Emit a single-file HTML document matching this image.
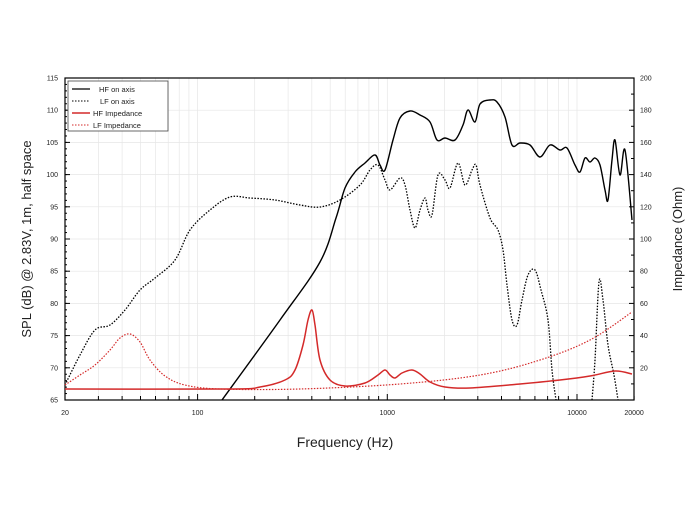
<!DOCTYPE html><html><head><style>body{margin:0;background:#fff}svg{display:block}text{font-family:"Liberation Sans",sans-serif}</style></head><body>
<svg width="700" height="524" xmlns="http://www.w3.org/2000/svg">
<g id="grid" stroke="#e6e6e6" stroke-width="0.7"></g>
<rect x="65" y="78" width="569" height="322" fill="none" stroke="#000" stroke-width="1.2"/>
<g id="ticks" stroke="#000" stroke-width="1"></g>
<g id="labels" font-size="7" fill="#222"></g>
<g id="curves"></g>
<rect x="68" y="81" width="100" height="50" fill="#fff" stroke="#444" stroke-width="0.8"/>
<g font-size="7.5" fill="#222">
<line x1="72" y1="89" x2="90" y2="89" stroke="#000" stroke-width="1.3"/><text x="99" y="92">HF on axis</text>
<line x1="72" y1="101" x2="90" y2="101" stroke="#000" stroke-dasharray="1.5,1.5"/><text x="100" y="104">LF on axis</text>
<line x1="72" y1="113" x2="90" y2="113" stroke="#d42a2a" stroke-width="1.5"/><text x="93" y="116">HF Impedance</text>
<line x1="72" y1="125" x2="90" y2="125" stroke="#d42a2a" stroke-dasharray="1.5,1.5"/><text x="93" y="128">LF Impedance</text>
</g>
<text x="345" y="447" font-size="14" text-anchor="middle" fill="#222">Frequency (Hz)</text>
<text transform="translate(31,239) rotate(-90)" font-size="13" text-anchor="middle" fill="#222">SPL (dB) @ 2.83V, 1m, half space</text>
<text transform="translate(682,239) rotate(-90)" font-size="13" text-anchor="middle" fill="#222">Impedance (Ohm)</text>
</svg>
<script>
const ns="http://www.w3.org/2000/svg";
function el(p,t,a,tx){const e=document.createElementNS(ns,t);for(const k in a)e.setAttribute(k,a[k]);if(tx)e.textContent=tx;document.getElementById(p).appendChild(e);return e;}
const X=f=>65+Math.log10(f/20)*189.7;
for(let d=10;d<=10000;d*=10)for(let m=1;m<10;m++){const f=d*m;if(f<20||f>20000)continue;const x=X(f);
 el("grid","line",{x1:x,y1:78,x2:x,y2:400});
 el("ticks","line",{x1:x,y1:400,x2:x,y2:m==1?394:396});}
for(let v=65;v<=115;v+=5){const y=400-(v-65)*6.44;el("grid","line",{x1:65,y1:y,x2:634,y2:y});el("ticks","line",{x1:65,y1:y,x2:70,y2:y});el("labels","text",{x:58,y:y+2.5,"text-anchor":"end"},v);}
for(let v=65;v<115;v+=1){const y=400-(v-65)*6.44;el("ticks","line",{x1:65,y1:y,x2:67,y2:y});}
for(let v=0;v<=200;v+=20){const y=400-v*1.61;el("ticks","line",{x1:634,y1:y,x2:629,y2:y});el("labels","text",{x:640,y:y+2.5},v);
 if(v<200){el("ticks","line",{x1:634,y1:y-16.1,x2:631,y2:y-16.1});}}
[[20,"20"],[100,"100"],[1000,"1000"],[10000,"10000"],[20000,"20000"]].forEach(([f,t])=>el("labels","text",{x:X(f),y:415,"text-anchor":"middle"},t));
function smooth(s){const p=s.trim().split(/\s+/).map(q=>q.split(",").map(Number));let d="M"+p[0];
 for(let i=0;i<p.length-1;i++){const a=p[i-1]||p[i],b=p[i],c=p[i+1],e=p[i+2]||c;
  const c1=[b[0]+(c[0]-a[0])/6,b[1]+(c[1]-a[1])/6],c2=[c[0]-(e[0]-b[0])/6,c[1]-(e[1]-b[1])/6];
  d+=" C"+c1+" "+c2+" "+c;}return d;}
function curve(pts,stroke,w,dash){const a={d:smooth(pts),fill:"none",stroke:stroke,"stroke-width":w};if(dash)a["stroke-dasharray"]=dash;el("curves","path",a);}
curve("222,400 280,320 320,262 336,218 345,188 355,172 365,163 375,155 380,165 385,170 393,140 400,118 410,111 420,115 430,122 437,140 445,138 455,140 463,125 468,110 475,122 480,104 490,100 497,102 505,117 512,145 520,143 530,145 540,157 550,145 560,150 567,148 575,165 580,172 585,158 590,162 595,158 600,165 605,190 608,200 612,160 615,140 620,175 625,150 632,220","#000",1.4);
curve("65,385 80,355 95,330 110,325 125,310 140,290 155,278 175,260 190,230 210,210 230,197 250,198 275,200 300,205 320,207 340,200 360,185 370,170 378,165 385,180 390,190 400,178 405,185 410,210 415,228 420,210 425,198 428,210 432,215 438,175 445,180 450,188 458,163 465,185 472,170 476,165 480,185 490,218 498,230 503,250 507,285 512,320 517,325 522,300 528,275 535,270 541,290 548,320 552,370 556,400","#000",1.3,"1.5,1.5");
curve("592,400 595,360 599,282 603,300 608,345 614,375 618,400","#000",1.3,"1.5,1.5");
curve("65,389 230,389 260,387 285,380 295,370 303,345 308,320 312,310 315,325 320,360 330,380 345,386 365,383 378,375 385,370 390,375 395,378 402,373 412,370 420,374 430,382 445,387 470,388 520,384 560,380 590,376 615,371 632,374","#d42a2a",1.5);
curve("65,385 80,375 95,365 110,350 120,338 130,334 140,342 150,360 165,376 185,385 220,389 300,389 400,384 480,375 540,360 590,340 632,312","#d42a2a",1.2,"1.5,1.5");
</script>
</body></html>
